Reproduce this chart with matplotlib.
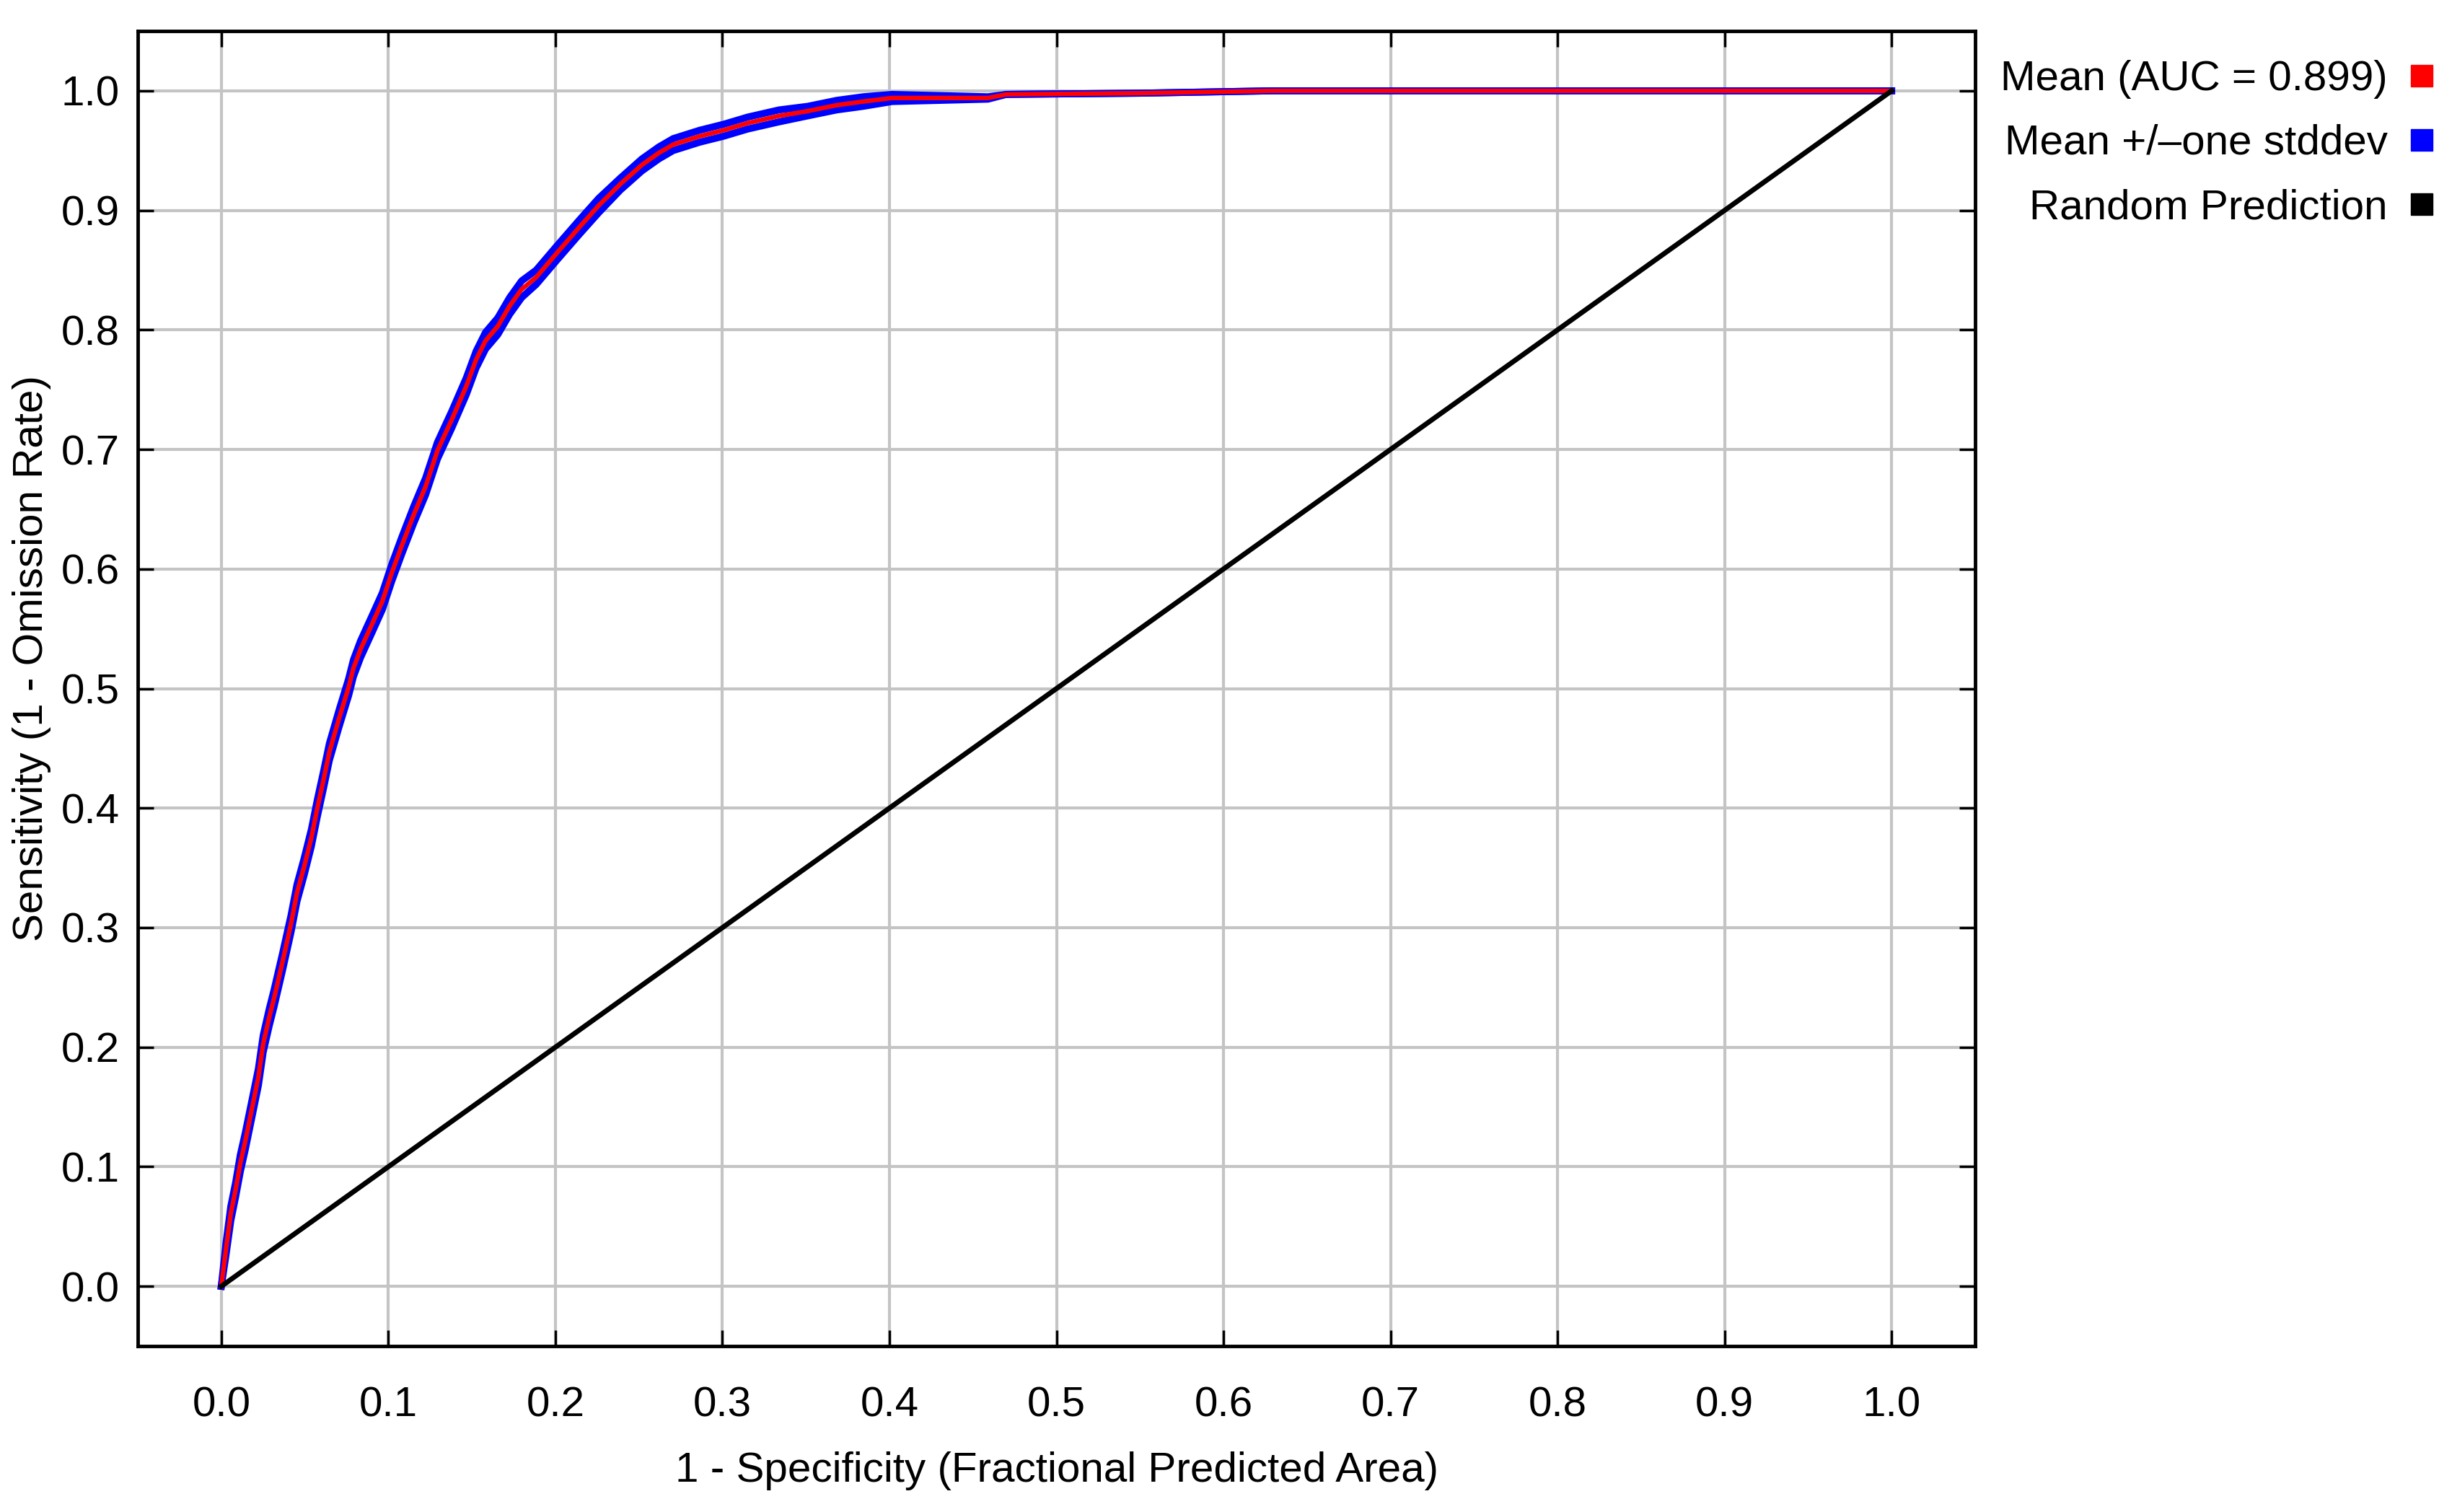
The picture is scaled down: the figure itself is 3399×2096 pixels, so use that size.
import numpy as np
import matplotlib.pyplot as plt
from matplotlib.lines import Line2D

plt.rcParams['font.family'] = ['Liberation Sans', 'DejaVu Sans']

# mean ROC curve
fpr = [0.0, 0.0028, 0.0057, 0.0086, 0.0114, 0.0143, 0.0187, 0.0222, 0.0251, 0.0287,
       0.0316, 0.0366, 0.0417, 0.0453, 0.0496, 0.0539, 0.0575, 0.0611, 0.0647, 0.0705,
       0.0762, 0.0791, 0.0834, 0.0906, 0.0964, 0.1021, 0.1079, 0.1151, 0.1223, 0.1294,
       0.138, 0.1467, 0.1525, 0.1582, 0.1655, 0.1726, 0.1798, 0.1885, 0.2007, 0.2144,
       0.2259, 0.2389, 0.2518, 0.2619, 0.2705, 0.2864, 0.3007, 0.3151, 0.3339, 0.351,
       0.3684, 0.3842, 0.4015, 0.459, 0.470, 0.55, 0.63, 1.0]
tpr = [0.0, 0.031, 0.061, 0.081, 0.103, 0.121, 0.151, 0.175, 0.203, 0.225,
       0.241, 0.271, 0.303, 0.329, 0.351, 0.375, 0.400, 0.423, 0.447, 0.475,
       0.501, 0.517, 0.533, 0.555, 0.573, 0.597, 0.619, 0.645, 0.669, 0.699,
       0.725, 0.753, 0.775, 0.791, 0.803, 0.820, 0.834, 0.844, 0.864, 0.886,
       0.904, 0.922, 0.938, 0.948, 0.955, 0.962, 0.967, 0.973, 0.979, 0.983,
       0.988, 0.991, 0.994, 0.994, 0.997, 0.998, 1.0, 1.0]
# approximate std dev band
tpr_sd = [0.0, 0.005, 0.006, 0.006, 0.007, 0.007, 0.007, 0.007, 0.007, 0.007,
          0.007, 0.007, 0.007, 0.007, 0.007, 0.007, 0.007, 0.007, 0.007, 0.007,
          0.007, 0.007, 0.007, 0.007, 0.007, 0.007, 0.007, 0.007, 0.007, 0.007,
          0.007, 0.007, 0.007, 0.007, 0.007, 0.007, 0.007, 0.006, 0.006, 0.006,
          0.006, 0.005, 0.005, 0.005, 0.005, 0.005, 0.005, 0.005, 0.005, 0.004,
          0.004, 0.004, 0.003, 0.001, 0.0, 0.0, 0.0, 0.0]

random_x = [0.0, 1.0]
random_y = [0.0, 1.0]

ticks = [0.0, 0.1, 0.2, 0.3, 0.4, 0.5, 0.6, 0.7, 0.8, 0.9, 1.0]
tick_labels = ['0.0', '0.1', '0.2', '0.3', '0.4', '0.5', '0.6', '0.7', '0.8', '0.9', '1.0']
legend_labels = ['Mean (AUC = 0.899)', 'Mean +/\u2013one stddev', 'Random Prediction']

W, H = 3399, 2096
fig = plt.figure(figsize=(W / 100, H / 100), dpi=100)
ax = fig.add_axes([191 / W, 1 - 1866 / H, (2738 - 191) / W, (1866 - 43) / H])

mean = np.array(tpr)
sd = np.array(tpr_sd)
ax.plot(fpr, mean + sd, color='#0000ff', lw=7, zorder=3, solid_joinstyle='round')
ax.plot(fpr, mean - sd, color='#0000ff', lw=7, zorder=3, solid_joinstyle='round')
ax.plot(fpr, mean, color='#ff0000', lw=4.5, zorder=4, solid_joinstyle='round')
ax.plot(random_x, random_y, color='black', lw=5, zorder=5)

ax.set_xlim(-0.05, 1.05)
ax.set_ylim(-0.05, 1.05)
ax.set_xticks(ticks)
ax.set_xticklabels(tick_labels)
ax.set_yticks(ticks)
ax.set_yticklabels(tick_labels)
ax.grid(True, color='#c4c4c4', lw=3)
ax.set_axisbelow(True)
ax.tick_params(direction='in', top=True, right=True, length=16, width=2.5,
               labelsize=42, color='black')
ax.tick_params(axis='x', pad=40)
ax.tick_params(axis='y', pad=18)
for s in ax.spines.values():
    s.set_linewidth(3.5)

ax.set_xlabel('1 - Specificity (Fractional Predicted Area)', fontsize=42, labelpad=26)
ax.set_ylabel('Sensitivity (1 - Omission Rate)', fontsize=42)
ax.yaxis.set_label_coords(-0.047, 0.523)

handles = [Line2D([], [], ls='none', marker='s', ms=22, color=c)
           for c in ['#ff0000', '#0000ff', 'black']]
ax.legend(handles, legend_labels, loc='upper right', bbox_to_anchor=(3374 / W, 1 - 83 / H),
          bbox_transform=fig.transFigure, markerfirst=False, frameon=False,
          fontsize=42, labelspacing=0.6, handlelength=0.6, handletextpad=0.5,
          borderaxespad=0, borderpad=0)

fig.savefig('out.png', dpi=100)
